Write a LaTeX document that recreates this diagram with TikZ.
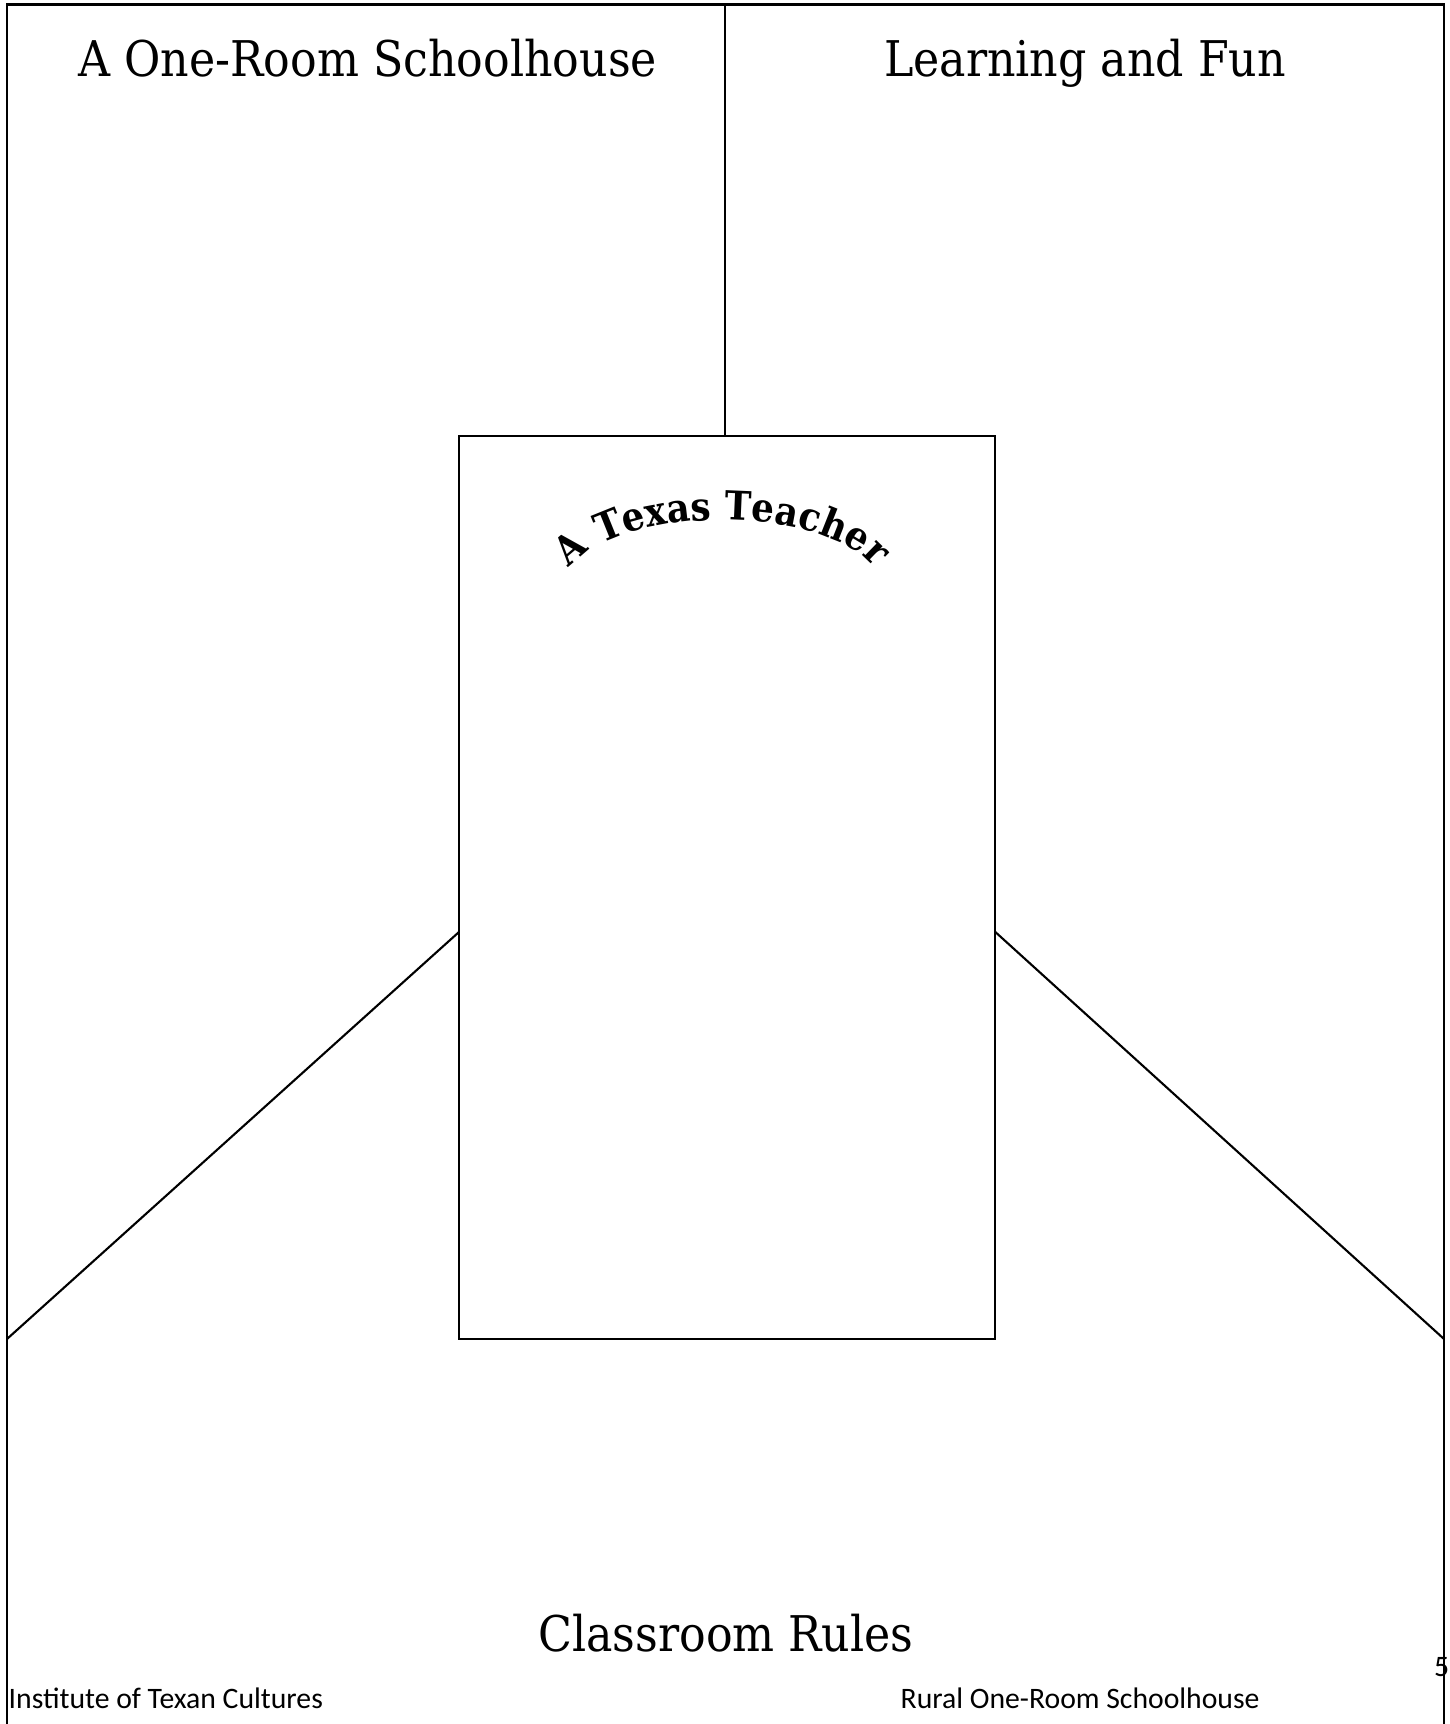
\documentclass[tikz,border=0pt]{standalone}
\usepackage{fontspec}
\setmainfont{DejaVu Serif Condensed}
\newfontfamily\footfont{Carlito}
\usetikzlibrary{positioning, calc, decorations.text}

\begin{document}
\begin{tikzpicture}[
    every node/.style={inner sep=0pt},
    heading/.style={font=\fontsize{14}{16}\selectfont, anchor=base},
    footer/.style={font=\footfont\fontsize{8.45}{10}\selectfont, anchor=base west},
    frame/.style={line width=0.6pt},
    teacherbox/.style={draw, line width=0.6pt, minimum width=5.363cm, minimum height=9.03cm},
  ]
  \useasboundingbox (0,0) rectangle (14.5,17.24);

  % Outer frame (open at the bottom)
  \coordinate (tl) at (0.07,17.195);
  \coordinate (tr) at (14.44,17.195);
  \coordinate (tm) at (7.253,17.195);
  \draw[frame] (0.07,0) -- (tl) -- (tr) -- (14.44,0);

  % Centre box
  \node[teacherbox] (teacher) at (7.2715,8.365) {};
  \draw[frame] (tm) -- (teacher.north -| tm);

  % Diagonals
  \coordinate (lknee) at (4.59,7.92);
  \coordinate (rknee) at (9.953,7.92);
  \coordinate (lfoot) at (0.07,3.85);
  \coordinate (rfoot) at (14.44,3.85);
  \draw[frame] (lknee) -- (lfoot);
  \draw[frame] (rknee) -- (rfoot);

  % Headings
  \node[heading] (school) at (3.677,16.47) {A One-Room Schoolhouse};
  \node[heading] (learning) at (10.85,16.47) {Learning and Fun};
  \node[heading] (rules) at (7.26,0.72) {Classroom Rules};

  % Arched title
  \coordinate (arcc) at (7.22,11.34);
  \path[decorate, decoration={text along path, text align=center,
        text={|\bfseries\fontsize{11.3}{13}\selectfont|A Texas Teacher}}]
    ($(arcc)+(175:1.6 and 0.7)$) arc[start angle=175, end angle=5, x radius=1.6, y radius=0.7];

  % Footer
  \node[footer] (inst) at (0.08,0.15) {Institute of Texan Cultures};
  \node[footer] (rural) at (9.0,0.15) {Rural One-Room Schoolhouse};
  \node[footer] (pagenum) at (14.335,0.48) {5};
\end{tikzpicture}
\end{document}
